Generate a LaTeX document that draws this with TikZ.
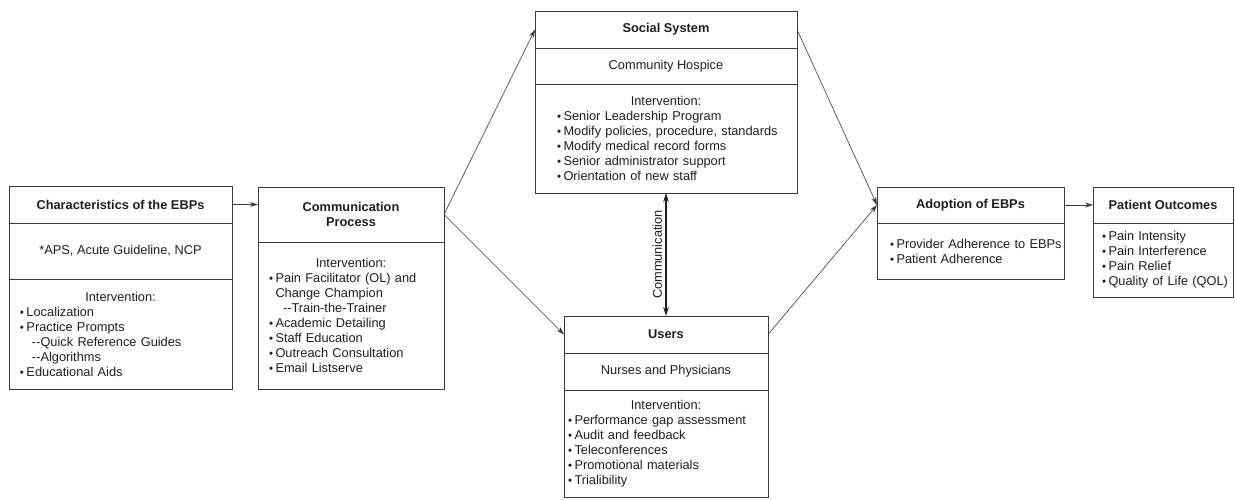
\documentclass[tikz,border=0pt]{standalone}
\usepackage{fontspec}
\setmainfont{Liberation Sans}
\usepackage{xcolor}
\usepackage{tikz}
\usetikzlibrary{arrows.meta,positioning}
\definecolor{cizgiGri}{HTML}{3A3A3A}
\definecolor{yaziSiyah}{HTML}{1E1E1E}
\newcommand{\blt}{\makebox[6.5pt][l]{\fontsize{11.5}{11.5}\selectfont\textbullet}}
\newcommand{\devam}{\hspace*{6.5pt}}
\newcommand{\altmadde}[1]{\hspace*{#1}{-}{-}}
\newcommand{\liste}[1]{\raggedright\leftskip=#1\rightskip=0pt plus 1fil minus 30pt\relax}
\newcommand{\baslik}{\centering Intervention:\par}

\begin{document}
\begin{tikzpicture}[x=1pt,y=-1pt,
  cerceve/.style={draw=cizgiGri,line width=0.8pt,inner sep=0pt,outer sep=0pt,
    text=yaziSiyah,font=\fontsize{12.8}{15}\selectfont},
  kutu/.style={cerceve,align=center},
  ok/.style={draw=cizgiGri,line width=0.6pt,-{Stealth[length=8pt,width=5pt]}},
  iletisim/.style={draw=yaziSiyah,line width=1.4pt,
    {Stealth[length=9pt,width=5.5pt]}-{Stealth[length=9pt,width=5.5pt]}}]
\useasboundingbox (0,0) rectangle (1235,499);
% characteristics
\node[kutu,anchor=north west,minimum width=223pt,minimum height=37pt] (charT) at (9,186) {\textbf{Characteristics of the EBPs}};
\node[kutu,below=0pt of charT,minimum width=223pt,minimum height=56pt] (charM) {*APS, Acute Guideline, NCP};
\node[cerceve,below=0pt of charM,minimum width=223pt,text width=223pt,minimum height=110pt] (charB) {\baslik\liste{11pt}%
  \blt Localization\\
  \blt Practice Prompts\\
  \altmadde{12pt}Quick Reference Guides\\
  \altmadde{12pt}Algorithms\\
  \blt Educational Aids\par};
% communication process
\node[kutu,anchor=north west,minimum width=186pt,minimum height=55pt] (commT) at (258,187) {\textbf{Communication}\\\textbf{Process}};
\node[cerceve,below=0pt of commT,minimum width=186pt,text width=186pt,minimum height=147pt] (commB) {\baslik\liste{11pt}%
  \blt Pain Facilitator (OL) and\\
  \devam Change Champion\\
  \altmadde{14pt}Train-the-Trainer\\
  \blt Academic Detailing\\
  \blt Staff Education\\
  \blt Outreach Consultation\\
  \blt Email Listserve\par};
% social system
\node[kutu,anchor=north west,minimum width=262pt,minimum height=37pt] (socT) at (535,11) {\textbf{Social System}};
\node[kutu,below=0pt of socT,minimum width=262pt,minimum height=36pt] (socM) {Community Hospice};
\node[cerceve,below=0pt of socM,minimum width=262pt,text width=262pt,minimum height=109pt] (socB) {\baslik\liste{22pt}%
  \blt Senior Leadership Program\\
  \blt Modify policies, procedure, standards\\
  \blt Modify medical record forms\\
  \blt Senior administrator support\\
  \blt Orientation of new staff\par};
% users
\node[kutu,anchor=north west,minimum width=204pt,minimum height=37pt] (usrT) at (564,316) {\textbf{Users}};
\node[kutu,below=0pt of usrT,minimum width=204pt,minimum height=37pt] (usrM) {Nurses and Physicians};
\node[cerceve,below=0pt of usrM,minimum width=204pt,text width=204pt,minimum height=107pt] (usrB) {\baslik\liste{4pt}%
  \blt Performance gap assessment\\
  \blt Audit and feedback\\
  \blt Teleconferences\\
  \blt Promotional materials\\
  \blt Trialibility\par};
% adoption
\node[kutu,anchor=north west,minimum width=187pt,minimum height=36pt] (adpT) at (877,187) {\textbf{Adoption of EBPs}};
\node[cerceve,below=0pt of adpT,minimum width=187pt,text width=187pt,minimum height=56pt] (adpB) {\liste{13pt}%
  \blt Provider Adherence to EBPs\\
  \blt Patient Adherence\par};
% outcomes
\node[kutu,anchor=north west,minimum width=140pt,minimum height=36pt] (outT) at (1093,187) {\textbf{Patient Outcomes}};
\node[cerceve,below=0pt of outT,minimum width=140pt,text width=140pt,minimum height=74pt] (outB) {\liste{9pt}%
  \blt Pain Intensity\\
  \blt Pain Interference\\
  \blt Pain Relief\\
  \blt Quality of Life (QOL)\par};
% arrows
\draw[ok] (charT.east) -- (charT.east -| commT.west);
\draw[ok] (commT.east) -- (socT.west);
\draw[ok] (commT.east) -- (usrT.west);
\draw[ok] (socT.east) -- (adpT.west);
\draw[ok] (usrT.east) -- (adpT.west);
\draw[ok] (adpT.east) -- (outT.west);
\draw[iletisim] (usrT.north) -- node[sloped,above,text=yaziSiyah,font=\fontsize{12.8}{15}\selectfont] (iletisimYazi) {Communication} (socB.south);
\end{tikzpicture}
\end{document}
